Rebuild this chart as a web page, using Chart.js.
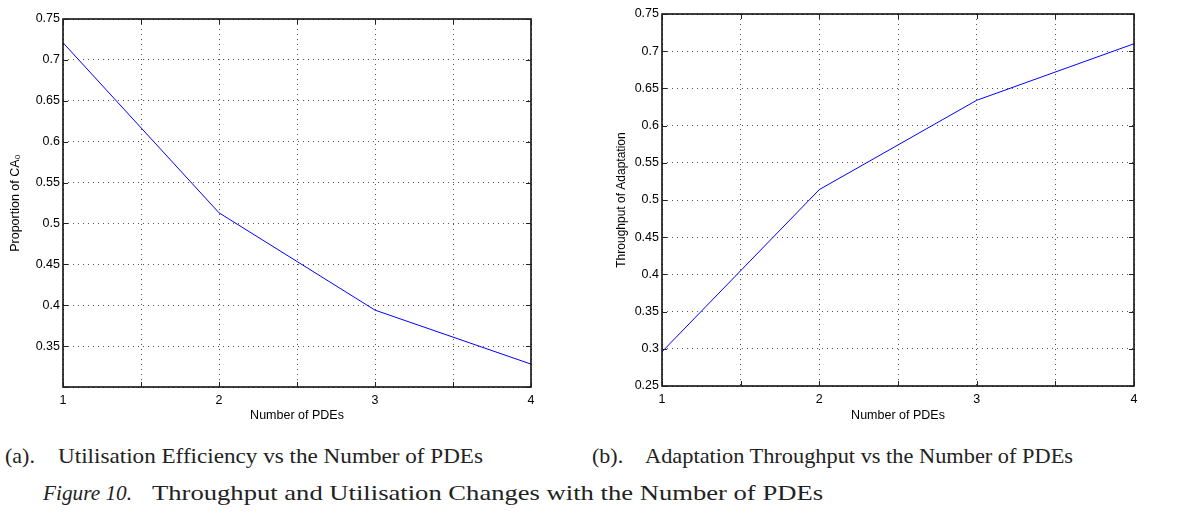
<!DOCTYPE html>
<html>
<head>
<meta charset="utf-8">
<script src="https://cdn.jsdelivr.net/npm/chart.js"></script>
<style>
    body { margin: 0; background: #fff; width: 1188px; height: 513px; position: relative; overflow: hidden; }
    canvas { position: absolute; top: 0; }
    .cap { position: absolute; font-family: "Liberation Serif", "DejaVu Serif", serif; font-size: 22px; line-height: 1; color: #222; white-space: nowrap; transform-origin: 0 0; }
</style>
</head>
<body>
<canvas id="chartA" width="560" height="430" style="left:0"></canvas>
<canvas id="chartB" width="598" height="430" style="left:590px"></canvas>
<script>
const pdes = [1, 2, 3, 4];
const utilisation = [0.721, 0.513, 0.394, 0.328];
const throughput = [0.296, 0.514, 0.634, 0.710];
const xTitle = "Number of PDEs";
const yTitleA = "Proportion of CA\u2080";
const yTitleB = "Throughput of Adaptation";

Chart.defaults.font.family = '"Liberation Sans", Arial, sans-serif';
Chart.defaults.font.size = 12.5;
Chart.defaults.color = "#000";

// matlab style box with inward ticks on all four sides
const framePlugin = {
    id: "frame",
    afterDraw(chart) {
        const { ctx, chartArea: a, scales: { x, y } } = chart;
        ctx.save();
        ctx.strokeStyle = "#000";
        ctx.lineWidth = 1.5;
        ctx.strokeRect(a.left, a.top, a.right - a.left, a.bottom - a.top);
        ctx.lineWidth = 1;
        ctx.strokeStyle = "#222";
        ctx.beginPath();
        x.ticks.forEach(t => {
            const px = Math.round(x.getPixelForValue(t.value)) + 0.5;
            ctx.moveTo(px, a.bottom); ctx.lineTo(px, a.bottom - 5);
            ctx.moveTo(px, a.top); ctx.lineTo(px, a.top + 5);
        });
        y.ticks.forEach(t => {
            const py = Math.round(y.getPixelForValue(t.value)) + 0.5;
            ctx.moveTo(a.left, py); ctx.lineTo(a.left + 5, py);
            ctx.moveTo(a.right, py); ctx.lineTo(a.right - 5, py);
        });
        ctx.stroke();
        ctx.restore();
    }
};

function makeChart(id, values, yMin, yMax, yTitle, box) {
    const ctx = document.getElementById(id).getContext("2d");
    return new Chart(ctx, {
        type: "line",
        data: {
            labels: pdes,
            datasets: [{
                data: pdes.map((p, i) => ({ x: p, y: values[i] })),
                borderColor: "#0000ff",
                borderWidth: 1,
                pointRadius: 0,
                tension: 0
            }]
        },
        options: {
            responsive: false,
            animation: false,
            devicePixelRatio: 1,
            layout: { padding: { top: box.top, right: box.right, left: 0, bottom: 0 } },
            plugins: { legend: { display: false }, tooltip: { enabled: false } },
            scales: {
                x: {
                    type: "linear",
                    min: 1,
                    max: 4,
                    afterFit(s) { s.height = box.xHeight; },
                    ticks: {
                        stepSize: 0.5,
                        autoSkip: false,
                        maxRotation: 0,
                        padding: 6,
                        callback: v => Number.isInteger(v) ? String(v) : ""
                    },
                    grid: { color: "#555", lineWidth: 1, drawTicks: false },
                    border: { display: false, dash: [1, 4] },
                    title: { display: true, text: xTitle, padding: { top: 0, bottom: 6.8 } }
                },
                y: {
                    min: yMin,
                    max: yMax,
                    afterFit(s) { s.width = box.yWidth; },
                    ticks: {
                        stepSize: 0.05,
                        padding: 3,
                        callback: v => (box.hideMin && v < yMin + 0.01) ? "" : String(+v.toFixed(2))
                    },
                    grid: { color: "#555", lineWidth: 1, drawTicks: false },
                    border: { display: false, dash: [1, 4] },
                    title: { display: true, text: yTitle, font: { size: box.titleSize }, padding: { top: box.titlePad, bottom: 0 } }
                }
            }
        },
        plugins: [framePlugin]
    });
}

makeChart("chartA", utilisation, 0.3, 0.75, yTitleA,
    { top: 19, right: 29, xHeight: 43, yWidth: 63, titlePad: 8.5, titleSize: 12.5, hideMin: true });
makeChart("chartB", throughput, 0.25, 0.75, yTitleB,
    { top: 14, right: 54, xHeight: 44, yWidth: 72, titlePad: 24.5, titleSize: 12, hideMin: false });

// captions, squeezed to the width they take in the reference
function place(text, x, baseline, width, italic) {
    const el = document.createElement("div");
    el.className = "cap";
    el.textContent = text;
    if (italic) el.style.fontStyle = "italic";
    el.style.left = x + "px";
    el.style.top = (baseline - 18.4) + "px";
    document.body.appendChild(el);
    const w = el.getBoundingClientRect().width;
    if (width) el.style.transform = `scaleX(${width / w})`;
}
place("(a).", 5, 463, 0, false);
place("Utilisation Efficiency vs the Number of PDEs", 58, 463, 425, false);
place("(b).", 592, 463, 0, false);
place("Adaptation Throughput vs the Number of PDEs", 645, 463, 428, false);
place("Figure 10.", 43, 500, 89, true);
place("Throughput and Utilisation Changes with the Number of PDEs", 152, 500, 671, false);
</script>
</body>
</html>
